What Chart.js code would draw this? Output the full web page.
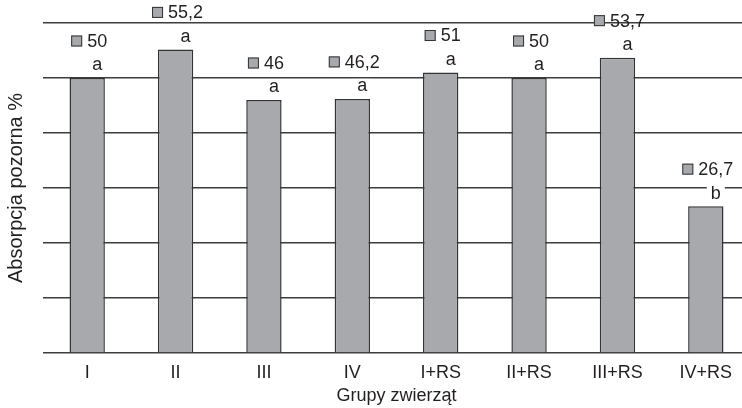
<!DOCTYPE html>
<html>
<head>
<meta charset="utf-8">
<script src="https://cdn.jsdelivr.net/npm/chart.js@4"></script>
<style>
  html, body { margin: 0; padding: 0; background: #fff; overflow: hidden; }
  #wrap { width: 750px; height: 408px; }
</style>
</head>
<body>
<div id="wrap"><canvas id="absChart"></canvas></div>
<script>
const categories = ["I", "II", "III", "IV", "I+RS", "II+RS", "III+RS", "IV+RS"];
const values = [50, 55.2, 46, 46.2, 51, 50, 53.7, 26.7];
const letters = ["a", "a", "a", "a", "a", "a", "a", "b"];

const textColor = "#231f20";
const barFill = "#a7a9ac";
const barEdge = "#333333";
const fontFamily = "'Liberation Sans', Arial, sans-serif";

// value label (small key square + number) and group letter above each bar
const barLabels = {
  id: "barLabels",
  afterDatasetsDraw(chart) {
    const ctx = chart.ctx;
    const meta = chart.getDatasetMeta(0);
    ctx.save();
    ctx.font = "18px " + fontFamily;
    ctx.textBaseline = "middle";
    meta.data.forEach((bar, i) => {
      const txt = String(values[i]).replace(".", ",");
      const tw = ctx.measureText(txt).width;
      const groupW = 11 + 5 + tw;
      const gx = bar.x - groupW / 2 + 2;
      const vy = bar.y - 37;

      ctx.fillStyle = barFill;
      ctx.fillRect(gx, vy - 5.5, 11, 11);
      ctx.strokeStyle = barEdge;
      ctx.lineWidth = 1;
      ctx.strokeRect(gx + 0.5, vy - 5, 10, 10);

      ctx.fillStyle = textColor;
      ctx.textAlign = "left";
      ctx.fillText(txt, gx + 16, vy + 1);

      const lx = gx + 16 + tw / 2;
      const ly = bar.y - 13.5;
      const lw = ctx.measureText(letters[i]).width;
      ctx.fillStyle = "#fff";
      ctx.fillRect(lx - lw / 2 - 4, ly - 6.5, lw + 8, 14);
      ctx.fillStyle = textColor;
      ctx.textAlign = "center";
      ctx.fillText(letters[i], lx, ly + 1);
    });
    ctx.restore();
  }
};

new Chart(document.getElementById("absChart").getContext("2d"), {
  type: "bar",
  data: {
    labels: categories,
    datasets: [
      {
        data: values,
        backgroundColor: barFill,
        borderColor: barEdge,
        borderWidth: 1.5,
        barPercentage: 0.4,
        categoryPercentage: 1,
      },
    ],
  },
  options: {
    responsive: true,
    maintainAspectRatio: false,
    animation: false,
    layout: { padding: { top: 23, left: 0, right: 0, bottom: 0 } },
    plugins: {
      legend: { display: false },
      tooltip: { enabled: false },
    },
    scales: {
      x: {
        grid: { display: false, drawTicks: false },
        border: { display: false },
        ticks: { color: textColor, font: { size: 18, family: fontFamily }, padding: 9 },
        title: {
          display: true,
          text: "Grupy zwierząt",
          color: textColor,
          font: { size: 18, family: fontFamily },
          padding: { top: 0, bottom: 1 },
        },
        afterFit: (s) => { s.height = 55; },
      },
      y: {
        min: 0,
        max: 60,
        ticks: { display: false, stepSize: 10 },
        grid: { color: "#3d3d3d", lineWidth: 1.5, drawTicks: false },
        border: { display: false },
        title: {
          display: true,
          text: "Absorpcja pozorna %",
          color: textColor,
          font: { size: 20, family: fontFamily },
        },
        afterFit: (s) => { s.width = 43; },
      },
    },
  },
  plugins: [barLabels],
});
</script>
</body>
</html>
